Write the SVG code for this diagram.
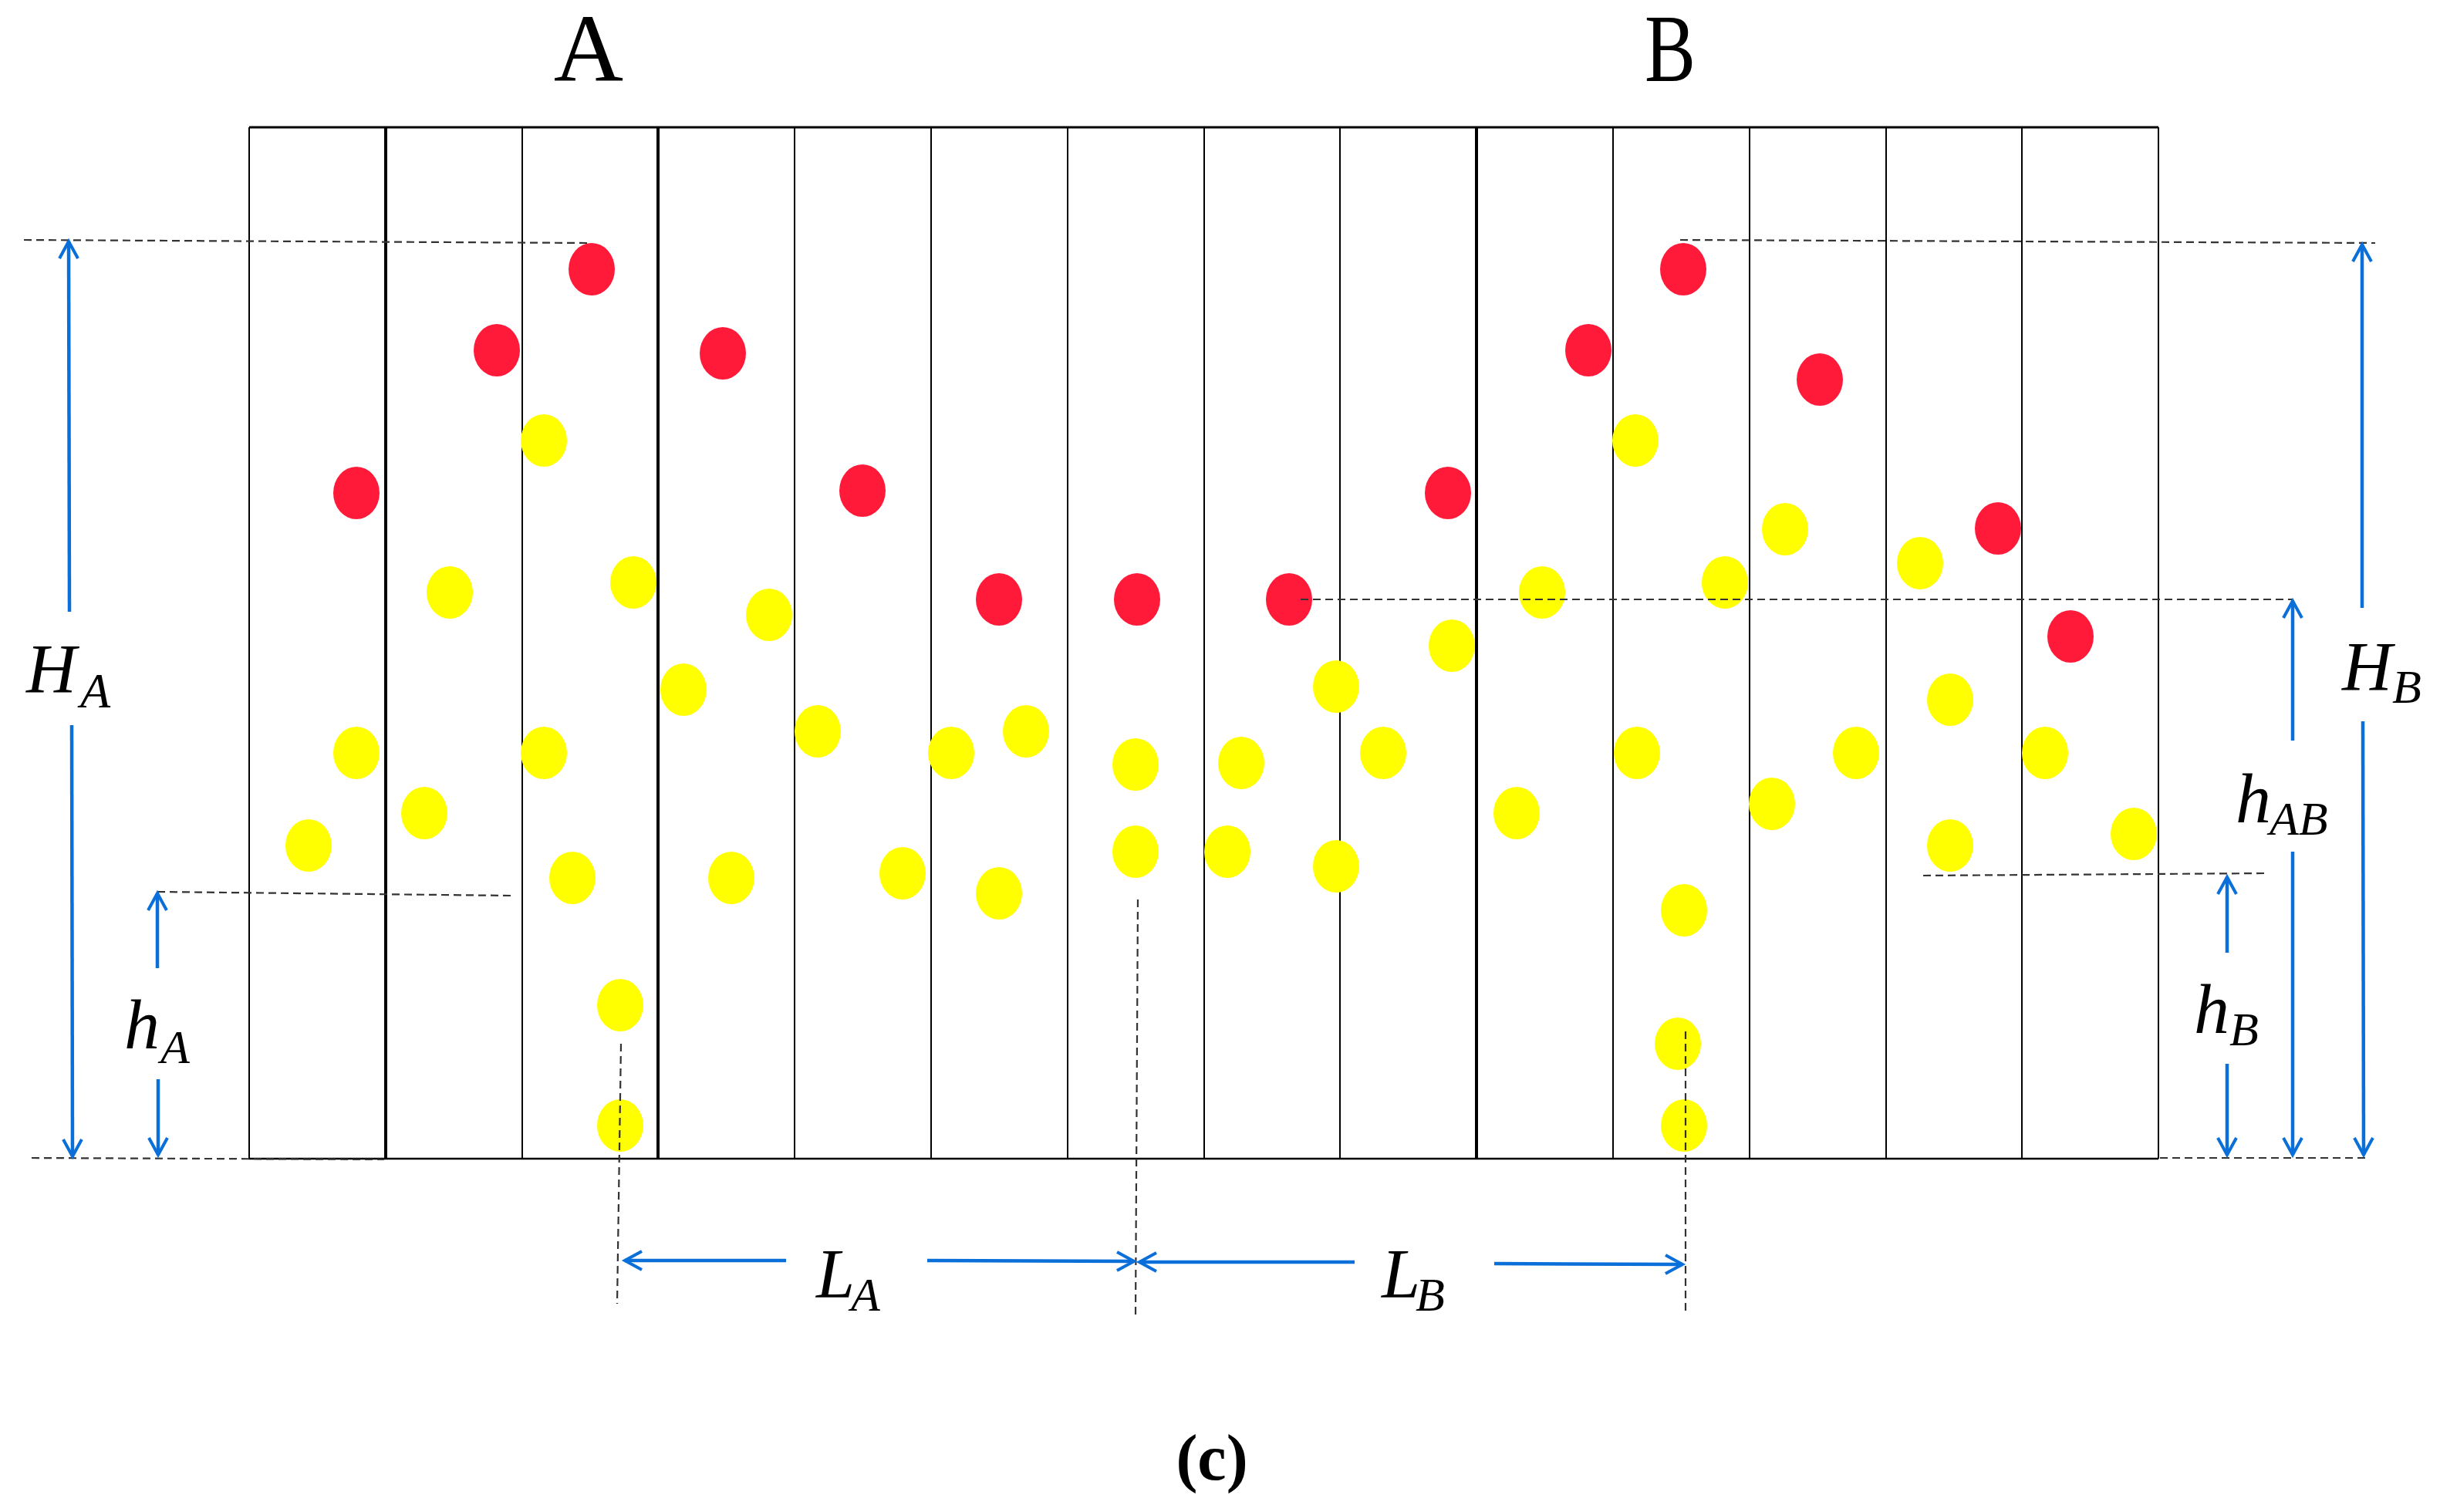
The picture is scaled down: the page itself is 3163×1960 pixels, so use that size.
<svg xmlns="http://www.w3.org/2000/svg" width="3163" height="1960" viewBox="0 0 3163 1960">
<style>
.col{stroke:#000;stroke-width:2;fill:none}
.colb{stroke:#000;stroke-width:4;fill:none}
.dash{stroke:#333;stroke-width:2.2;stroke-dasharray:10 6;fill:none}
.dim{stroke:#0A6FD8;stroke-width:4.5;fill:none}
.r{fill:#FF1A3A}
.y{fill:#FFFF00}
.m{font-family:"Liberation Serif","DejaVu Serif",serif;font-style:italic;fill:#000}
.t{font-family:"Liberation Serif","DejaVu Serif",serif;fill:#000}
</style>
<defs>
<marker id="ah" markerUnits="userSpaceOnUse" markerWidth="40" markerHeight="40" viewBox="-30 -20 40 40" refX="0" refY="0" orient="auto">
<path d="M-22,-12 L0,0 L-22,12" stroke="#0A6FD8" stroke-width="4" fill="none" stroke-linejoin="miter"/>
</marker>
</defs>
<rect width="3163" height="1960" fill="#fff"/>
<g id="grid">
<line class="col" x1="323" y1="165" x2="2798" y2="165" style="stroke-width:3"/>
<line class="col" x1="323" y1="1502" x2="2798" y2="1502" style="stroke-width:2.5"/>
<line class="col" x1="323" y1="165" x2="323" y2="1502"/>
<line class="colb" x1="500" y1="165" x2="500" y2="1502"/>
<line class="col" x1="677" y1="165" x2="677" y2="1502"/>
<line class="colb" x1="853" y1="165" x2="853" y2="1502"/>
<line class="col" x1="1030" y1="165" x2="1030" y2="1502"/>
<line class="col" x1="1207" y1="165" x2="1207" y2="1502"/>
<line class="col" x1="1384" y1="165" x2="1384" y2="1502"/>
<line class="col" x1="1561" y1="165" x2="1561" y2="1502"/>
<line class="col" x1="1737" y1="165" x2="1737" y2="1502"/>
<line class="colb" x1="1914" y1="165" x2="1914" y2="1502"/>
<line class="col" x1="2091" y1="165" x2="2091" y2="1502"/>
<line class="col" x1="2268" y1="165" x2="2268" y2="1502"/>
<line class="col" x1="2445" y1="165" x2="2445" y2="1502"/>
<line class="col" x1="2621" y1="165" x2="2621" y2="1502"/>
<line class="col" x1="2798" y1="165" x2="2798" y2="1502"/>
</g>
<g id="red-particles">
<ellipse class="r" cx="767" cy="349" rx="30" ry="34"/>
<ellipse class="r" cx="644" cy="454" rx="30" ry="34"/>
<ellipse class="r" cx="462" cy="639" rx="30" ry="34"/>
<ellipse class="r" cx="937" cy="458" rx="30" ry="34"/>
<ellipse class="r" cx="1118" cy="636" rx="30" ry="34"/>
<ellipse class="r" cx="1295" cy="777" rx="30" ry="34"/>
<ellipse class="r" cx="1474" cy="777" rx="30" ry="34"/>
<ellipse class="r" cx="1671" cy="777" rx="30" ry="34"/>
<ellipse class="r" cx="1877" cy="639" rx="30" ry="34"/>
<ellipse class="r" cx="2059" cy="454" rx="30" ry="34"/>
<ellipse class="r" cx="2182" cy="349" rx="30" ry="34"/>
<ellipse class="r" cx="2359" cy="492" rx="30" ry="34"/>
<ellipse class="r" cx="2590" cy="685" rx="30" ry="34"/>
<ellipse class="r" cx="2684" cy="825" rx="30" ry="34"/>
</g>
<g id="yellow-particles">
<ellipse class="y" cx="705" cy="571" rx="30" ry="34"/>
<ellipse class="y" cx="583" cy="768" rx="30" ry="34"/>
<ellipse class="y" cx="821" cy="755" rx="30" ry="34"/>
<ellipse class="y" cx="997" cy="797" rx="30" ry="34"/>
<ellipse class="y" cx="886" cy="894" rx="30" ry="34"/>
<ellipse class="y" cx="462" cy="976" rx="30" ry="34"/>
<ellipse class="y" cx="400" cy="1096" rx="30" ry="34"/>
<ellipse class="y" cx="550" cy="1054" rx="30" ry="34"/>
<ellipse class="y" cx="705" cy="976" rx="30" ry="34"/>
<ellipse class="y" cx="742" cy="1138" rx="30" ry="34"/>
<ellipse class="y" cx="804" cy="1303" rx="30" ry="34"/>
<ellipse class="y" cx="804" cy="1459" rx="30" ry="34"/>
<ellipse class="y" cx="948" cy="1138" rx="30" ry="34"/>
<ellipse class="y" cx="1060" cy="948" rx="30" ry="34"/>
<ellipse class="y" cx="1170" cy="1132" rx="30" ry="34"/>
<ellipse class="y" cx="1233" cy="976" rx="30" ry="34"/>
<ellipse class="y" cx="1330" cy="948" rx="30" ry="34"/>
<ellipse class="y" cx="1295" cy="1158" rx="30" ry="34"/>
<ellipse class="y" cx="1472" cy="991" rx="30" ry="34"/>
<ellipse class="y" cx="1472" cy="1104" rx="30" ry="34"/>
<ellipse class="y" cx="1609" cy="989" rx="30" ry="34"/>
<ellipse class="y" cx="1591" cy="1104" rx="30" ry="34"/>
<ellipse class="y" cx="1732" cy="890" rx="30" ry="34"/>
<ellipse class="y" cx="1793" cy="976" rx="30" ry="34"/>
<ellipse class="y" cx="1732" cy="1123" rx="30" ry="34"/>
<ellipse class="y" cx="1882" cy="837" rx="30" ry="34"/>
<ellipse class="y" cx="1999" cy="768" rx="30" ry="34"/>
<ellipse class="y" cx="1966" cy="1054" rx="30" ry="34"/>
<ellipse class="y" cx="2120" cy="571" rx="30" ry="34"/>
<ellipse class="y" cx="2236" cy="755" rx="30" ry="34"/>
<ellipse class="y" cx="2314" cy="686" rx="30" ry="34"/>
<ellipse class="y" cx="2122" cy="976" rx="30" ry="34"/>
<ellipse class="y" cx="2183" cy="1180" rx="30" ry="34"/>
<ellipse class="y" cx="2175" cy="1353" rx="30" ry="34"/>
<ellipse class="y" cx="2183" cy="1459" rx="30" ry="34"/>
<ellipse class="y" cx="2297" cy="1042" rx="30" ry="34"/>
<ellipse class="y" cx="2406" cy="976" rx="30" ry="34"/>
<ellipse class="y" cx="2489" cy="730" rx="30" ry="34"/>
<ellipse class="y" cx="2528" cy="907" rx="30" ry="34"/>
<ellipse class="y" cx="2528" cy="1096" rx="30" ry="34"/>
<ellipse class="y" cx="2651" cy="976" rx="30" ry="34"/>
<ellipse class="y" cx="2766" cy="1081" rx="30" ry="34"/>
</g>
<g id="guides">
<line class="dash" x1="31" y1="311" x2="765" y2="315"/>
<line class="dash" x1="41" y1="1501" x2="498" y2="1503"/>
<line class="dash" x1="204" y1="1156" x2="663" y2="1161"/>
<line class="dash" x1="805" y1="1353" x2="800" y2="1690"/>
<line class="dash" x1="1475" y1="1166" x2="1472" y2="1705"/>
<line class="dash" x1="2185" y1="1337" x2="2185" y2="1701"/>
<line class="dash" x1="2178" y1="311" x2="3079" y2="315"/>
<line class="dash" x1="1686" y1="777" x2="2971" y2="777"/>
<line class="dash" x1="2493" y1="1135" x2="2937" y2="1132"/>
<line class="dash" x1="2800" y1="1501" x2="3066" y2="1501"/>
</g>
<g id="connectors">
<line class="dim" x1="90" y1="793" x2="89" y2="313" marker-end="url(#ah)"/>
<line class="dim" x1="93" y1="940" x2="94" y2="1499" marker-end="url(#ah)"/>
<line class="dim" x1="204" y1="1255" x2="204" y2="1158" marker-end="url(#ah)"/>
<line class="dim" x1="205" y1="1399" x2="205" y2="1497" marker-end="url(#ah)"/>
<line class="dim" x1="1019" y1="1634" x2="810" y2="1634" marker-end="url(#ah)"/>
<line class="dim" x1="1202" y1="1634" x2="1470" y2="1635" marker-end="url(#ah)"/>
<line class="dim" x1="1756" y1="1636" x2="1477" y2="1636" marker-end="url(#ah)"/>
<line class="dim" x1="1937" y1="1638" x2="2181" y2="1639" marker-end="url(#ah)"/>
<line class="dim" x1="2887" y1="1235" x2="2887" y2="1137" marker-end="url(#ah)"/>
<line class="dim" x1="2887" y1="1379" x2="2887" y2="1497" marker-end="url(#ah)"/>
<line class="dim" x1="2972" y1="960" x2="2972" y2="779" marker-end="url(#ah)"/>
<line class="dim" x1="2972" y1="1104" x2="2972" y2="1497" marker-end="url(#ah)"/>
<line class="dim" x1="3062" y1="788" x2="3062" y2="317" marker-end="url(#ah)"/>
<line class="dim" x1="3063" y1="935" x2="3064" y2="1497" marker-end="url(#ah)"/>
</g>
<g id="labels">
<text class="t" x="763" y="105" font-size="125" text-anchor="middle">A</text>
<text class="t" x="2132" y="105" font-size="125" textLength="66" lengthAdjust="spacingAndGlyphs">B</text>
<text class="m" x="34" y="898" font-size="90">H</text>
<text class="m" x="104" y="917" font-size="64">A</text>
<text class="m" x="161" y="1359" font-size="92">h</text>
<text class="m" x="208" y="1378" font-size="62">A</text>
<text class="m" x="1058" y="1682" font-size="90">L</text>
<text class="m" x="1103" y="1699" font-size="62">A</text>
<text class="m" x="1791" y="1682" font-size="90">L</text>
<text class="m" x="1835" y="1699" font-size="62">B</text>
<text class="m" x="2844" y="1339" font-size="92">h</text>
<text class="m" x="2890" y="1355" font-size="62">B</text>
<text class="m" x="2898" y="1066" font-size="92">h</text>
<text class="m" x="2942" y="1082" font-size="62">AB</text>
<text class="m" x="3036" y="895" font-size="90">H</text>
<text class="m" x="3101" y="911" font-size="62">B</text>
<text class="t" x="1571" y="1918" font-size="84" font-weight="bold" text-anchor="middle">(c)</text>
</g>
</svg>
